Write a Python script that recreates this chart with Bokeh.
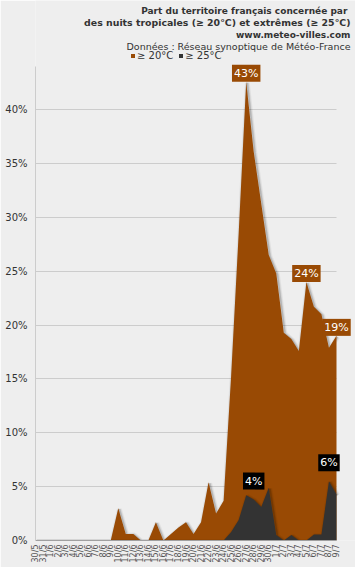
import numpy as np
from bokeh.plotting import figure
from bokeh.models import Range1d, FixedTicker, Label, Legend, LegendItem
from bokeh.embed import file_html
from bokeh.resources import INLINE

categories = ["30/5", "31/5",
              "1/6", "2/6", "3/6", "4/6", "5/6", "6/6", "7/6", "8/6", "9/6", "10/6",
              "11/6", "12/6", "13/6", "14/6", "15/6", "16/6", "17/6", "18/6", "19/6", "20/6",
              "21/6", "22/6", "23/6", "24/6", "25/6", "26/6", "27/6", "28/6", "29/6", "30/6",
              "1/7", "2/7", "3/7", "4/7", "5/7", "6/7", "7/7", "8/7", "9/7"]

# share of territory with tropical nights (>= 20 degC), percent
warm = [0, 0,
        0, 0, 0, 0, 0, 0, 0, 0, 0, 3.0,
        0.6, 0.6, 0, 0, 1.7, 0, 0.6, 1.2, 1.7, 0.6,
        1.7, 5.4, 2.5, 3.7, 15.3, 28.5, 42.6, 36.1, 31.3, 26.5,
        24.8, 19.3, 18.7, 17.6, 24.0, 21.7, 21.0, 17.9, 19.0]

# share of territory with extreme nights (>= 25 degC), percent
hot = [0, 0,
       0, 0, 0, 0, 0, 0, 0, 0, 0, 0,
       0, 0, 0, 0, 0, 0, 0, 0, 0, 0,
       0, 0, 0, 0, 0.8, 1.9, 4.2, 3.8, 3.1, 4.9,
       0.5, 0, 0.5, 0, 0, 0.55, 0.55, 5.5, 4.3]

y_ticks = [0, 5, 10, 15, 20, 25, 30, 35, 40]
y_axis_max = 44
warm_label_idx = [28, 36, 40]
hot_label_idx = [29, 39]

title_lines = ["Part du territoire français concernée  par",
               "des nuits tropicales (≥ 20°C) et extrêmes (≥ 25°C)",
               "www.meteo-villes.com",
               "Données : Réseau synoptique de Météo-France"]
title_styles = ["bold", "bold", "bold", "normal"]
title_sizes = ["9px", "9.4px", "9px", "9.5px"]
title_baselines = [10.5, 22, 34, 45.5]   # px from top of page

BROWN = "#994a04"
DARK = "#333333"
BG = "#eeeeee"
FONT = "DejaVu Sans"

W, H = 355, 567
LEFT, BOTTOM = 35, 27
FRAME_W, FRAME_H = W - LEFT, H - BOTTOM
PX_PER_PCT = 10.77
PX_PER_DAY = 301 / 40.0

n = len(categories)
x = np.arange(n)

p = figure(width=W, height=H, output_backend="svg", toolbar_location=None,
           x_range=Range1d(0, FRAME_W / PX_PER_DAY),
           y_range=Range1d(0, FRAME_H / PX_PER_PCT),
           min_border_left=LEFT, min_border_right=0, min_border_top=0,
           min_border_bottom=BOTTOM)
p.background_fill_color = BG
p.border_fill_color = BG
p.outline_line_color = None

# soft shadows
dx, dy = 0.15, -0.1
for w, a in [(5, 0.05), (3, 0.08), (1.5, 0.13)]:
    p.line(x + dx, np.array(warm) + dy, line_color="black", line_alpha=a, line_width=w)
r_warm = p.varea(x=x, y1=0, y2=warm, fill_color=BROWN)
for w, a in [(5, 0.05), (3, 0.08), (1.5, 0.13)]:
    p.line(x + dx, np.array(hot) + dy, line_color="black", line_alpha=a, line_width=w)
r_hot = p.varea(x=x, y1=0, y2=hot, fill_color=DARK)

# axes
xa = p.xaxis[0]
xa.ticker = FixedTicker(ticks=list(range(n)))
xa.bounds = (0, n - 1)
xa.major_label_overrides = {i: c for i, c in enumerate(categories)}
xa.major_label_orientation = np.pi / 2
xa.major_label_text_font = FONT
xa.major_label_text_font_size = "8px"
xa.major_label_text_color = "#555555"
xa.major_label_standoff = 4
xa.major_tick_out = 0
xa.minor_tick_out = 0
xa.major_tick_line_color = None
xa.minor_tick_line_color = None
xa.axis_line_color = "#a0a0a0"

ya = p.yaxis[0]
ya.ticker = FixedTicker(ticks=y_ticks)
ya.bounds = (0, y_axis_max)
ya.major_label_overrides = {t: f"{t}%" for t in y_ticks}
ya.major_label_text_font = FONT
ya.major_label_text_font_size = "10px"
ya.major_label_text_color = "#333333"
ya.major_label_standoff = 8
ya.major_tick_out = 0
ya.minor_tick_out = 0
ya.major_tick_line_color = None
ya.minor_tick_line_color = None
ya.axis_line_color = "#cccccc"

p.xgrid.grid_line_color = None
p.ygrid.ticker = FixedTicker(ticks=y_ticks[1:])
p.ygrid.grid_line_color = "#cccccc"
p.ygrid.cross_bounds = (0, n - 1)

# title lines (screen units from frame bottom-left)
for txt, st, sz, b in zip(title_lines, title_styles, title_sizes, title_baselines):
    p.add_layout(Label(x=W - 5 - LEFT, y=FRAME_H - b, x_units="screen", y_units="screen",
                       text=txt, text_align="right", text_baseline="alphabetic",
                       text_font=FONT, text_font_style=st, text_font_size=sz,
                       text_color="#333333"))

# legend
legend = Legend(items=[LegendItem(label="≥ 20°C", renderers=[r_warm]),
                       LegendItem(label="≥ 25°C", renderers=[r_hot])],
                location=(130 - LEFT, FRAME_H - 61), orientation="horizontal",
                padding=0, margin=0, spacing=5, glyph_width=5, glyph_height=5,
                label_standoff=2, label_height=12, label_text_font=FONT,
                label_text_font_size="10px", label_text_color="#333333",
                background_fill_alpha=0, border_line_color=None)
p.add_layout(legend)

# data labels
for i in warm_label_idx:
    p.add_layout(Label(x=i, y=warm[i], text=f"{round(warm[i])}%", text_align="center",
                       text_baseline="bottom", y_offset=0, background_fill_color=BROWN,
                       text_color="white", text_font=FONT, text_font_size="11px",
                       padding=2))
for i in hot_label_idx:
    p.add_layout(Label(x=i, y=hot[i], text=f"{round(hot[i])}%", text_align="center",
                       text_baseline="bottom", y_offset=10, background_fill_color="black",
                       text_color="white", text_font=FONT, text_font_size="11px",
                       padding=2))

open("out.html", "w").write(file_html(p, INLINE))
